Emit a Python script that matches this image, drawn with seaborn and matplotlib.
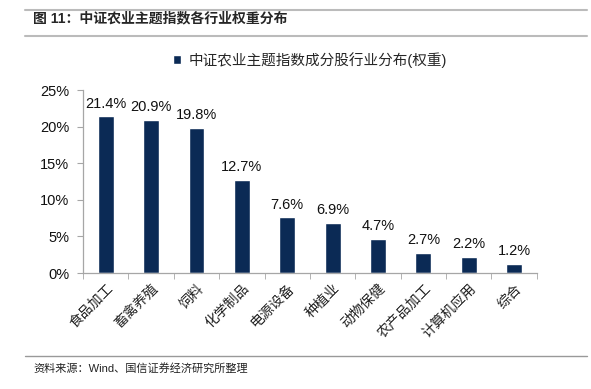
import seaborn as sns
import matplotlib.pyplot as plt
import pandas as pd

# data
industries = ['食品加工', '畜禽养殖', '饲料', '化学制品', '电源设备', '种植业',
              '动物保健', '农产品加工', '计算机应用', '综合']
weights = [21.4, 20.9, 19.8, 12.7, 7.6, 6.9, 4.7, 2.7, 2.2, 1.2]
yticks = [0, 5, 10, 15, 20, 25]

df = pd.DataFrame({'industry': industries, 'weight': weights})

sns.set_style('white')
plt.rcParams['font.family'] = ['Liberation Sans', 'Noto Sans CJK SC', 'DejaVu Sans']

bar_color = '#0B2A55'
grey = '#A6A6A6'

fig = plt.figure(figsize=(5.91, 3.89), dpi=100)
ax = fig.add_axes([0.1404, 0.298, 0.768, 0.4704])

sns.barplot(x='industry', y='weight', data=df, color=bar_color, width=0.35,
            saturation=1, ax=ax, label='中证农业主题指数成分股行业分布(权重)')

# value labels
for i, v in enumerate(weights):
    ax.text(i, v + 0.8, f'{v}%', ha='center', va='bottom', fontsize=10.5, color='#111111')

ax.set_ylim(0, 25)
ax.set_xlim(-0.5, len(industries) - 0.5)
ax.set_yticks(yticks)
ax.set_yticklabels([f'{t}%' for t in yticks], fontsize=10.5, color='#111111')
ax.set_xlabel('')
ax.set_ylabel('')
ax.set_xticks(range(len(industries)))
ax.set_xticklabels(industries, rotation=45, ha='right', rotation_mode='anchor',
                   fontsize=10, color='#222222')
ax.set_xticks([i + 0.5 for i in range(-1, len(industries))], minor=True)
ax.tick_params(axis='x', which='major', length=0, pad=6)
ax.tick_params(axis='x', which='minor', length=4, color=grey, direction='out', bottom=True)
ax.tick_params(axis='y', length=4, color=grey, direction='out', left=True, pad=6)

for side in ['top', 'right']:
    ax.spines[side].set_visible(False)
for side in ['left', 'bottom']:
    ax.spines[side].set_color(grey)
    ax.spines[side].set_linewidth(0.9)

ax.legend(loc='center', bbox_to_anchor=(0.5, 1.165), frameon=False, fontsize=10.5,
          handlelength=0.6, handleheight=0.6, handletextpad=0.5)

# title, rules and source note
fig.text(0.056, 0.953, '图 11：中证农业主题指数各行业权重分布', fontsize=10,
         fontweight='bold', va='center', ha='left')
fig.add_artist(plt.Line2D([0.042, 0.993], [0.974, 0.974], color='#BBBBBB', linewidth=1.5))
fig.add_artist(plt.Line2D([0.042, 0.993], [0.907, 0.907], color='#BBBBBB', linewidth=1.5))
fig.add_artist(plt.Line2D([0.042, 0.993], [0.085, 0.085], color='#999999', linewidth=1))
fig.text(0.056, 0.052, '资料来源：Wind、国信证券经济研究所整理', fontsize=8,
         va='center', ha='left', color='#222222')

plt.savefig('out.png', dpi=100)
